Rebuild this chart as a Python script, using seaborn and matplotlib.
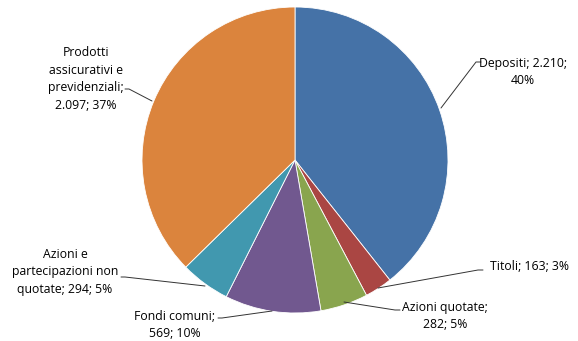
import matplotlib
matplotlib.use("Agg")
import matplotlib.pyplot as plt
import seaborn as sns

categories = ["Depositi", "Titoli", "Azioni quotate", "Fondi comuni",
              "Azioni e partecipazioni non quotate",
              "Prodotti assicurativi e previdenziali"]
values = [2210, 163, 282, 569, 294, 2097]
value_labels = ["2.210", "163", "282", "569", "294", "2.097"]
pct_labels = ["40%", "3%", "5%", "10%", "5%", "37%"]
label_texts = [
    "Depositi; 2.210;\n40%",
    "Titoli; 163; 3%",
    "Azioni quotate;\n282; 5%",
    "Fondi comuni;\n569; 10%",
    "Azioni e\npartecipazioni non\nquotate; 294; 5%",
    "Prodotti\nassicurativi e\nprevidenziali;\n2.097; 37%",
]
colors = ["#4572A7", "#AA4643", "#89A54E", "#71588F", "#4198AF", "#DB843D"]

sns.set_theme(style="white")
plt.rcParams['font.family'] = ['Open Sans', 'DejaVu Sans']

W, H = 578, 341
fig = plt.figure(figsize=(W / 100, H / 100), dpi=100)
ax = fig.add_axes([0, 0, 1, 1])

CX, CY, R = 295, 160, 153
ax.pie(values, colors=colors, startangle=90, counterclock=False, radius=1,
       wedgeprops=dict(edgecolor="white", linewidth=0.6))
ax.set_aspect("auto")
ax.set_xlim(-CX / R, (W - CX) / R)
ax.set_ylim((CY - H) / R, CY / R)
ax.axis("off")

def P(px, py):
    return ((px - CX) / R, (CY - py) / R)

# (text center px, text center py, leader points in px)
layout = [
    (523, 72, [(441, 108), (476, 62), (481, 62)]),
    (530, 266, [(378, 288), (478, 270), (483, 270)]),
    (445, 316, [(344, 302), (395, 310), (400, 310)]),
    (175, 325, [(272, 311), (222, 318), (218, 318)]),
    (65, 272, [(205, 286), (125, 277), (121, 277)]),
    (86, 79, [(152, 101), (129, 89), (125, 89)]),
]
for txt, (tx, ty, pts) in zip(label_texts, layout):
    ax.text(*P(tx, ty), txt, ha="center", va="center", fontsize=8.8,
            color="#000000", linespacing=1.45)
    xs, ys = zip(*[P(x, y) for x, y in pts])
    ax.plot(xs, ys, color="#333333", linewidth=0.7)

fig.savefig("out.png", dpi=100, facecolor="white")
